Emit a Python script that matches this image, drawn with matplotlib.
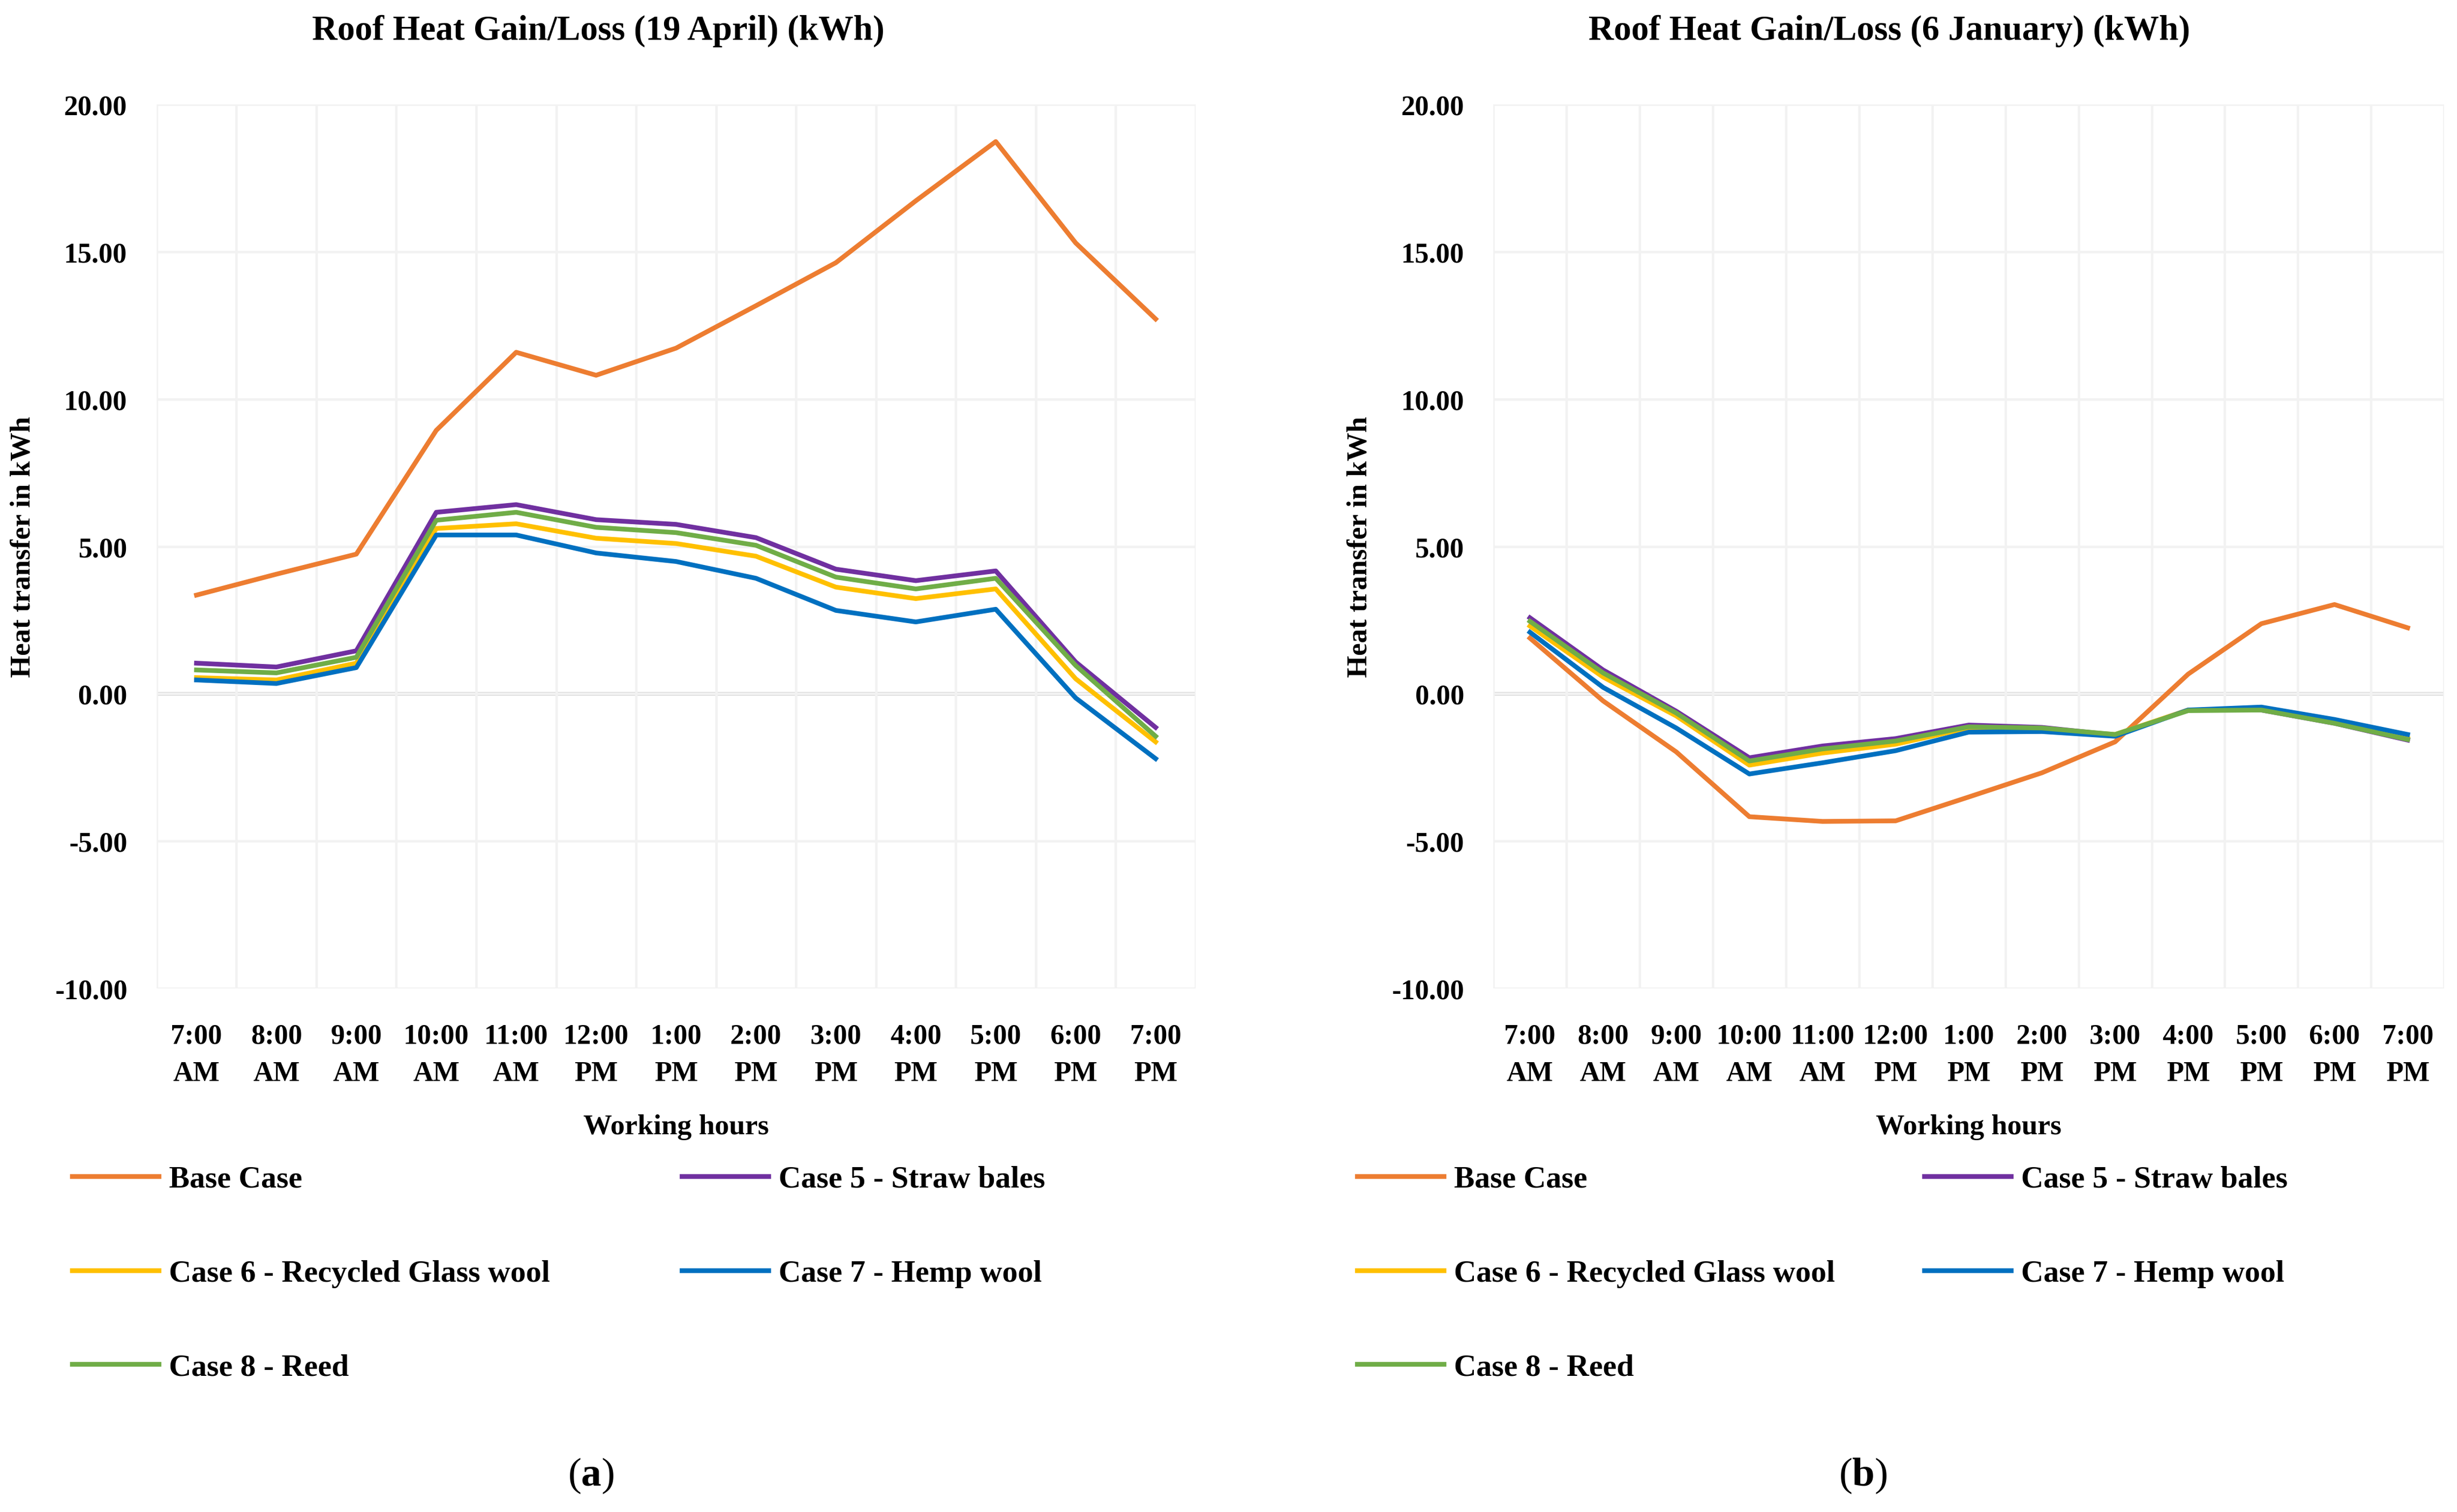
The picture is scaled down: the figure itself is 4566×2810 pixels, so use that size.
import matplotlib
matplotlib.use("Agg")
import matplotlib.pyplot as plt
import numpy as np

plt.rcParams['font.family'] = ['Liberation Serif', 'DejaVu Serif']
plt.rcParams['font.weight'] = 'bold'
plt.rcParams['mathtext.fontset'] = 'custom'
plt.rcParams['mathtext.rm'] = 'Liberation Serif'
plt.rcParams['mathtext.bf'] = 'Liberation Serif:bold'

hours = ["7:00\nAM", "8:00\nAM", "9:00\nAM", "10:00\nAM", "11:00\nAM", "12:00\nPM",
         "1:00\nPM", "2:00\nPM", "3:00\nPM", "4:00\nPM", "5:00\nPM", "6:00\nPM", "7:00\nPM"]

series_names = ["Base Case", "Case 5 - Straw bales", "Case 6 - Recycled Glass wool",
                "Case 7 - Hemp wool", "Case 8 - Reed"]
series_colors = ["#ED7D31", "#7030A0", "#FFC000", "#0070C0", "#70AD47"]

# (a) 19 April
april_base = [3.35, 4.06, 4.74, 8.94, 11.59, 10.81, 11.73, 13.17, 14.63, 16.73, 18.74, 15.30, 12.72]
april_case5 = [1.04, 0.91, 1.46, 6.16, 6.42, 5.91, 5.75, 5.30, 4.23, 3.84, 4.17, 1.08, -1.14]
april_case6 = [0.55, 0.47, 1.04, 5.61, 5.77, 5.28, 5.10, 4.67, 3.62, 3.23, 3.56, 0.51, -1.63]
april_case7 = [0.47, 0.35, 0.89, 5.39, 5.39, 4.78, 4.49, 3.92, 2.83, 2.44, 2.87, -0.14, -2.20]
april_case8 = [0.81, 0.71, 1.24, 5.89, 6.16, 5.65, 5.47, 5.04, 3.96, 3.56, 3.92, 0.96, -1.44]

# (b) 6 January
jan_base = [1.89, -0.24, -1.97, -4.17, -4.33, -4.31, -3.50, -2.68, -1.63, 0.67, 2.38, 3.03, 2.24]
jan_case5 = [2.58, 0.81, -0.59, -2.17, -1.77, -1.52, -1.06, -1.14, -1.40, -0.55, -0.55, -1.00, -1.57]
jan_case6 = [2.30, 0.57, -0.75, -2.42, -2.01, -1.71, -1.16, -1.20, -1.38, -0.55, -0.53, -0.98, -1.52]
jan_case7 = [2.09, 0.22, -1.16, -2.72, -2.34, -1.93, -1.30, -1.28, -1.44, -0.55, -0.45, -0.87, -1.38]
jan_case8 = [2.46, 0.71, -0.65, -2.28, -1.87, -1.60, -1.12, -1.16, -1.38, -0.57, -0.55, -1.00, -1.55]

yticks = [-10, -5, 0, 5, 10, 15, 20]

titles = ["Roof Heat Gain/Loss (19 April) (kWh)", "Roof Heat Gain/Loss (6 January) (kWh)"]
ylabel = "Heat transfer in kWh"
xlabel = "Working hours"
captions = ["a", "b"]

fig = plt.figure(figsize=(4566/300, 2811/300), dpi=300)
ax1 = fig.add_axes([0.0637, 0.3461, 0.4229, 0.5845])
ax2 = fig.add_axes([0.6078, 0.3461, 0.3870, 0.5845])

FS = 12.5
LFS = 13.8
panels = [
    (ax1, [april_base, april_case5, april_case6, april_case7, april_case8], -0.1164, -0.0814, 0.5053, 0.2404, 0.2435),
    (ax2, [jan_base, jan_case5, jan_case6, jan_case7, jan_case8], -0.127, -0.1433, 0.453, 0.7583, 0.7690),
]

for i, (ax, data, ylx, legx1, legx2, capx, titlex) in enumerate(panels):
    x = np.arange(len(hours))
    ax.set_xlim(-0.5, len(hours) - 0.5)
    ax.set_ylim(-10, 20)
    ax.set_yticks(yticks)
    ax.set_yticklabels([f"{v:.2f}" for v in yticks])
    ax.set_xticks(x)
    ax.set_xticklabels(hours, linespacing=1.58)
    ax.set_xticks(np.arange(-0.5, len(hours)), minor=True)
    ax.tick_params(axis='both', which='both', length=0, labelsize=FS)
    ax.tick_params(axis='y', pad=13)
    ax.tick_params(axis='x', pad=15.5)
    for s in ax.spines.values():
        s.set_visible(False)
    ax.grid(True, axis='y', which='major', color='#F2F2F2', lw=1.1, zorder=0)
    ax.grid(True, axis='x', which='minor', color='#F2F2F2', lw=1.1, zorder=0)
    ax.grid(False, axis='x', which='major')
    ax.axhline(0, color='#D9D9D9', lw=1.7, zorder=1)
    lines = []
    for d, name, c in zip(data, series_names, series_colors):
        ln, = ax.plot(x, d, color=c, lw=2.1, label=name, solid_joinstyle='round', zorder=3)
        lines.append(ln)
    ax.set_ylabel(ylabel, fontsize=12.7, fontweight='bold')
    ax.yaxis.set_label_coords(ylx, 0.5)
    ax.set_xlabel(xlabel, fontsize=12.8, fontweight='bold')
    ax.xaxis.set_label_coords(0.5, -0.142)
    fig.text(titlex, 0.9795, titles[i], ha='center', va='center', fontsize=15.6, fontweight='bold')

    common = dict(loc='upper left', frameon=False, fontsize=LFS, handlelength=2.8,
                  handletextpad=0.33, labelspacing=2.13, borderpad=0, borderaxespad=0)
    leg1 = ax.legend([lines[0], lines[2], lines[4]], [series_names[0], series_names[2], series_names[4]],
                     bbox_to_anchor=(legx1, -0.200), **common)
    ax.add_artist(leg1)
    ax.legend([lines[1], lines[3]], [series_names[1], series_names[3]],
              bbox_to_anchor=(legx2, -0.200), **common)

    fig.text(capx, 0.0242, "(" + r"$\mathbf{" + captions[i] + r"}$" + ")", ha='center', va='center',
             fontsize=18, fontweight='normal')

fig.savefig("out.png", dpi=300)
